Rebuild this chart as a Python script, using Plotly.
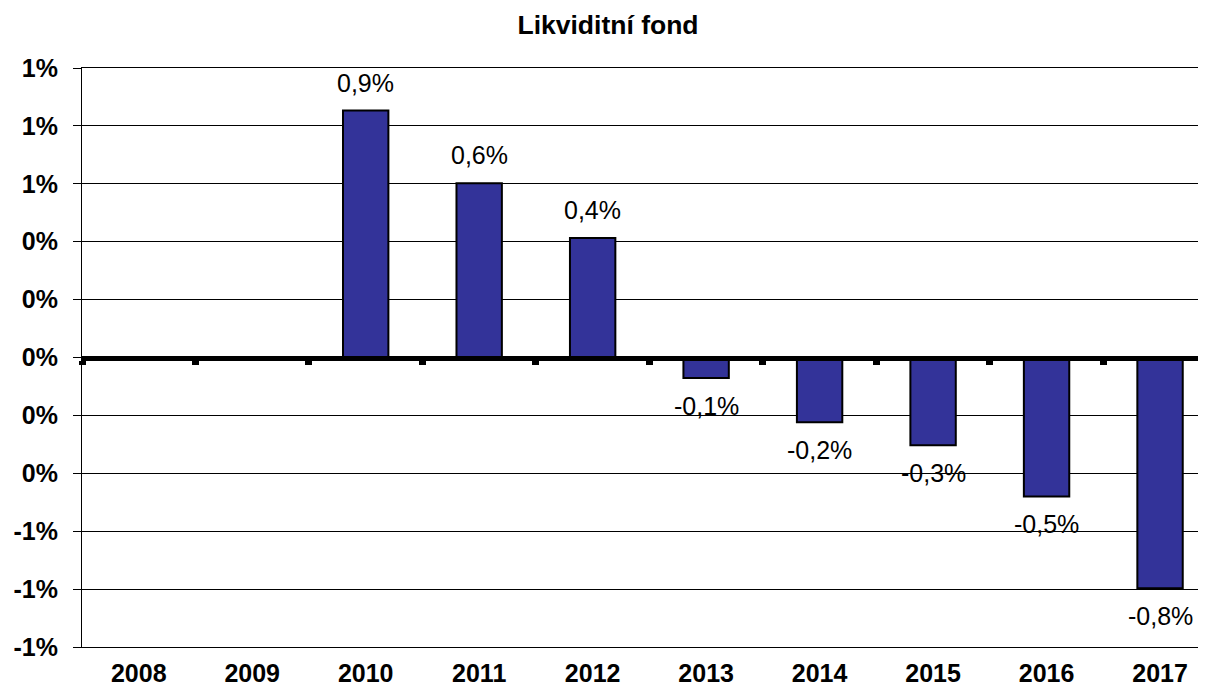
import plotly.graph_objects as go

years = ["2008", "2009", "2010", "2011", "2012", "2013", "2014", "2015", "2016", "2017"]
returns = [None, None, 0.853, 0.602, 0.413, -0.071, -0.224, -0.303, -0.480, -0.797]
y_tick_values = [-1.0, -0.8, -0.6, -0.4, -0.2, 0.0, 0.2, 0.4, 0.6, 0.8, 1.0]
y_tick_labels = ["-1%", "-1%", "-1%", "0%", "0%", "0%", "0%", "0%", "1%", "1%", "1%"]
title_text = "Likviditní fond"

FONT = "Liberation Sans, Arial, sans-serif"

# page body adds an 8px offset; figure is sized to fill the rest of the window
W, H = 1198, 680


def fmt(v):
    return f"{v:.1f}".replace(".", ",") + "%"


fig = go.Figure()
fig.add_trace(go.Bar(
    x=years, y=returns,
    marker=dict(color="#333399", line=dict(color="black", width=2)),
    width=0.4, showlegend=False, hoverinfo="skip",
))
# helper trace so the overlay axis (boundary ticks at zero) knows the categories
fig.add_trace(go.Scatter(
    x=years, y=[None] * len(years), xaxis="x2", mode="markers",
    showlegend=False, hoverinfo="skip",
))

x_range = [-0.5, 9.405]

annotations = []
for i, v in enumerate(returns):
    if v is None:
        continue
    annotations.append(dict(
        x=i, y=v, xref="x", yref="y", text=fmt(v), showarrow=False,
        yanchor="bottom" if v > 0 else "top",
        yshift=12 if v > 0 else -12,
        font=dict(family=FONT, size=25, color="black"),
    ))

fig.update_layout(
    width=W, height=H,
    margin=dict(l=74, r=0, t=60, b=41, autoexpand=False),
    paper_bgcolor="white", plot_bgcolor="white",
    font=dict(family=FONT, color="black"),
    title=dict(text="<b>" + title_text + "</b>", x=600 / W, xref="container",
               xanchor="center", y=1 - 17 / H, yref="container", yanchor="middle",
               font=dict(family=FONT, size=26.5, color="black")),
    annotations=annotations,
    xaxis=dict(
        type="category", range=x_range, showgrid=False, zeroline=False,
        showline=True, linecolor="black", linewidth=1, mirror=True,
        ticks="", ticklabelstandoff=4,
        tickfont=dict(family=FONT, size=25, color="black", weight="bold"),
        automargin=False,
    ),
    xaxis2=dict(
        type="category", overlaying="x", anchor="free", position=0.5, side="bottom",
        range=x_range, showgrid=False, zeroline=False,
        showline=True, linecolor="black", linewidth=5,
        ticks="outside", tickson="boundaries", ticklen=4, tickwidth=7, tickcolor="black",
        showticklabels=False, automargin=False,
    ),
    yaxis=dict(
        range=[-1.0, 1.0], tickvals=y_tick_values, ticktext=y_tick_labels,
        showgrid=True, gridcolor="black", gridwidth=1, zeroline=False,
        showline=True, linecolor="black", linewidth=1,
        ticks="outside", ticklen=8, tickcolor="black", tickwidth=1,
        ticklabelstandoff=10,
        tickfont=dict(family=FONT, size=25, color="black", weight="bold"),
        automargin=False,
    ),
)

fig.write_html("out.html")
